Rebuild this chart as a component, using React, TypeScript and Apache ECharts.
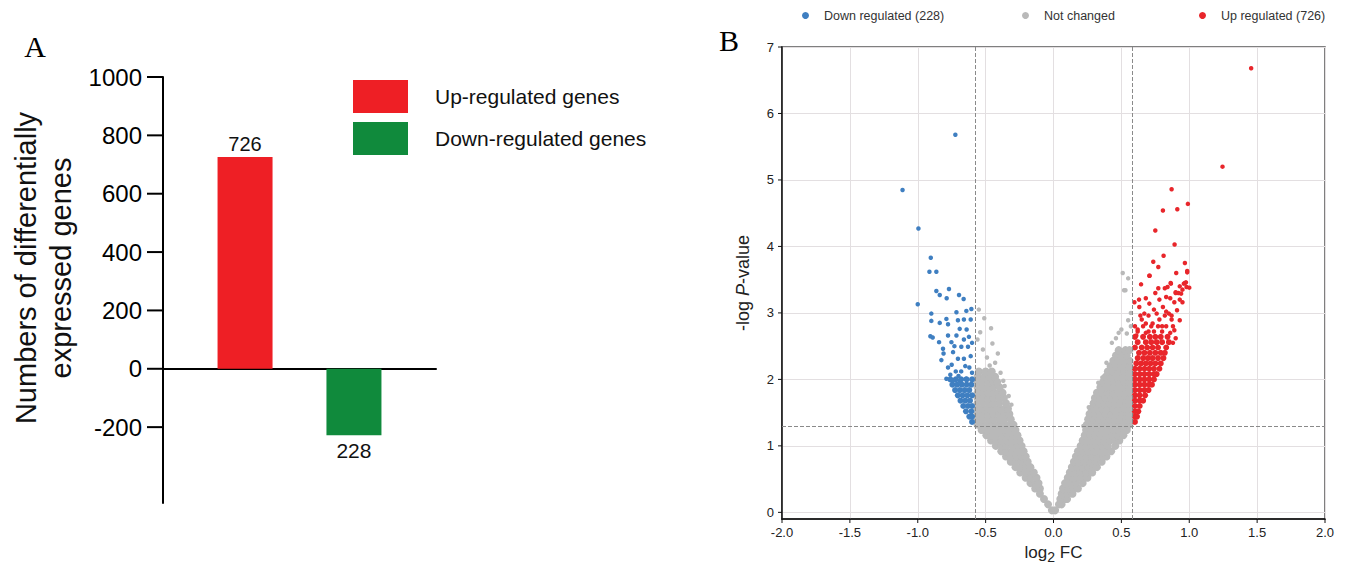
import React, { useEffect, useRef } from 'react';
import * as echarts from 'echarts';

// ---------- Panel A data ----------
const barCategories = ['DEGs'];
const upRegulated = [726];
const downRegulated = [-228];
const barAxisMin = -460; // the drawn axis line runs below the last tick
const barAxisMax = 1000;
const barTickValues = [-200, 0, 200, 400, 600, 800, 1000];
const barTickStep = 200;

// ---------- Panel B data (log2 FC, -log P) ----------
const volcanoXTickValues = [-2, -1.5, -1, -0.5, 0, 0.5, 1, 1.5, 2];
const volcanoXStep = 0.5;
const volcanoYMin = -0.1;
const volcanoYTickValues = [0, 1, 2, 3, 4, 5, 6, 7];
const volcanoYStep = 1;

// rows of the dense "not changed" cloud: [ -logP, [log2FC ...] ]
const notChangedLeftRows: [number, number[]][] = [
  [0.03, [-0.012, 0.012]],
  [0.12, [-0.04]],
  [0.2, [-0.07]],
  [0.28, [-0.1]],
  [0.36, [-0.135, -0.1]],
  [0.44, [-0.17, -0.13, -0.11]],
  [0.52, [-0.205, -0.165, -0.125]],
  [0.6, [-0.245, -0.205, -0.165, -0.145]],
  [0.68, [-0.28, -0.24, -0.2, -0.17]],
  [0.76, [-0.315, -0.275, -0.235, -0.19]],
  [0.84, [-0.35, -0.31, -0.27, -0.23, -0.205]],
  [0.92, [-0.385, -0.345, -0.305, -0.265, -0.22]],
  [1.0, [-0.425, -0.385, -0.345, -0.305, -0.265, -0.235]],
  [1.08, [-0.46, -0.42, -0.38, -0.34, -0.3, -0.25]],
  [1.16, [-0.495, -0.455, -0.415, -0.375, -0.335, -0.295, -0.265]],
  [1.24, [-0.53, -0.49, -0.45, -0.41, -0.37, -0.33, -0.28]],
  [1.32, [-0.56, -0.52, -0.48, -0.44, -0.4, -0.36, -0.32, -0.295]],
  [1.4, [-0.56, -0.52, -0.48, -0.44, -0.4, -0.36, -0.315]],
  [1.48, [-0.56, -0.52, -0.48, -0.44, -0.4, -0.36, -0.325]],
  [1.56, [-0.56, -0.52, -0.48, -0.44, -0.4, -0.36, -0.335]],
  [1.64, [-0.56, -0.52, -0.48, -0.44, -0.4, -0.35]],
  [1.72, [-0.56, -0.52, -0.48, -0.44, -0.4, -0.365]],
  [1.8, [-0.56, -0.52, -0.48, -0.44, -0.4, -0.375]],
  [1.88, [-0.56, -0.52, -0.48, -0.44, -0.395]],
  [1.96, [-0.56, -0.52, -0.48, -0.44, -0.415]],
  [2.04, [-0.56, -0.51, -0.47, -0.43]],
  [2.12, [-0.55, -0.5, -0.455]],
];

const notChangedRightRows: [number, number[]][] = [
  [0.12, [0.04, 0.06]],
  [0.2, [0.05, 0.09, 0.1]],
  [0.28, [0.06, 0.1, 0.14]],
  [0.36, [0.07, 0.11, 0.15, 0.18]],
  [0.44, [0.085, 0.125, 0.165, 0.215]],
  [0.52, [0.105, 0.145, 0.185, 0.225, 0.25]],
  [0.6, [0.12, 0.16, 0.2, 0.24, 0.285]],
  [0.68, [0.135, 0.175, 0.215, 0.255, 0.295, 0.32]],
  [0.76, [0.15, 0.19, 0.23, 0.27, 0.31, 0.355]],
  [0.84, [0.165, 0.205, 0.245, 0.285, 0.325, 0.365, 0.39]],
  [0.92, [0.18, 0.22, 0.26, 0.3, 0.34, 0.38, 0.425]],
  [1.0, [0.2, 0.24, 0.28, 0.32, 0.36, 0.4, 0.455]],
  [1.08, [0.215, 0.255, 0.295, 0.335, 0.375, 0.415, 0.455, 0.485]],
  [1.16, [0.23, 0.27, 0.31, 0.35, 0.39, 0.43, 0.47, 0.515]],
  [1.24, [0.24, 0.28, 0.32, 0.36, 0.4, 0.44, 0.48, 0.52, 0.54]],
  [1.32, [0.245, 0.285, 0.325, 0.365, 0.405, 0.445, 0.485, 0.525, 0.56]],
  [1.4, [0.255, 0.295, 0.335, 0.375, 0.415, 0.455, 0.495, 0.535, 0.56]],
  [1.48, [0.265, 0.305, 0.345, 0.385, 0.425, 0.465, 0.505, 0.545, 0.56]],
  [1.56, [0.28, 0.32, 0.36, 0.4, 0.44, 0.48, 0.52, 0.56]],
  [1.64, [0.295, 0.335, 0.375, 0.415, 0.455, 0.495, 0.535, 0.56]],
  [1.72, [0.305, 0.345, 0.385, 0.425, 0.465, 0.505, 0.545, 0.56]],
  [1.8, [0.32, 0.36, 0.4, 0.44, 0.48, 0.52, 0.56]],
  [1.88, [0.345, 0.385, 0.425, 0.465, 0.505, 0.545, 0.56]],
  [1.96, [0.365, 0.405, 0.445, 0.485, 0.525, 0.56]],
  [2.04, [0.385, 0.425, 0.465, 0.505, 0.545, 0.56]],
  [2.12, [0.4, 0.44, 0.48, 0.52, 0.56]],
  [2.2, [0.42, 0.46, 0.5, 0.54, 0.56]],
  [2.28, [0.44, 0.48, 0.52, 0.56]],
  [2.36, [0.46, 0.5, 0.54]],
  [2.44, [0.48, 0.53, 0.56]],
];

const notChangedScattered: [number, number][] = [
  [-0.55, 3.05], [-0.51, 2.92], [-0.46, 2.77], [-0.54, 2.71], [-0.45, 2.54], [-0.52, 2.45],
  [-0.41, 2.39], [-0.49, 2.33], [-0.47, 2.21], [-0.43, 2.25], [-0.56, 2.6], [-0.39, 2.1],
  [-0.37, 1.98], [-0.36, 1.9], [-0.33, 1.75], [-0.31, 1.62],
  [0.36, 2.03], [0.33, 1.95], [0.39, 2.25], [0.43, 2.55], [0.46, 2.62], [0.48, 2.7],
  [0.5, 2.75], [0.54, 2.69], [0.55, 2.89], [0.57, 2.8], [0.57, 3.0], [0.52, 3.34],
  [0.53, 3.34], [0.55, 3.52], [0.51, 3.6], [0.26, 1.58], [0.22, 1.3],
];

const downDenseRows: [number, number[]][] = [
  [1.36, [-0.6]],
  [1.44, [-0.62, -0.6]],
  [1.52, [-0.645, -0.605]],
  [1.6, [-0.665, -0.63, -0.6]],
  [1.68, [-0.685, -0.65, -0.615]],
  [1.76, [-0.705, -0.67, -0.635, -0.6]],
  [1.84, [-0.725, -0.69, -0.655, -0.62]],
  [1.92, [-0.745, -0.71, -0.675, -0.64, -0.605]],
  [2.0, [-0.76, -0.72, -0.68, -0.64, -0.6]],
];

const downScattered: [number, number][] = [
  [-0.723, 5.68], [-1.112, 4.85], [-0.995, 4.27], [-0.904, 3.83], [-0.914, 3.62], [-0.863, 3.62],
  [-0.863, 3.33], [-0.838, 3.27], [-0.77, 3.36], [-0.787, 3.22], [-0.696, 3.27], [-0.662, 3.21],
  [-1.0, 3.13], [-0.9, 2.99], [-0.9, 2.88], [-0.838, 2.85], [-0.789, 2.91], [-0.777, 2.83],
  [-0.715, 3.01], [-0.704, 2.89], [-0.66, 2.9], [-0.642, 3.03], [-0.605, 3.06], [-0.907, 2.65],
  [-0.89, 2.63], [-0.843, 2.56], [-0.814, 2.46], [-0.752, 2.56], [-0.777, 2.66], [-0.715, 2.66],
  [-0.691, 2.76], [-0.623, 2.64], [-0.63, 2.49], [-0.679, 2.49], [-0.826, 2.29], [-0.81, 2.39],
  [-0.74, 2.41], [-0.704, 2.31], [-0.66, 2.31], [-0.777, 2.18], [-0.75, 2.22], [-0.62, 2.18],
  [-0.68, 2.12], [-0.789, 2.01], [-0.74, 1.98], [-0.69, 1.98], [-0.645, 2.01], [-0.61, 2.35],
  [-0.6, 2.55], [-0.64, 2.75], [-0.72, 2.12], [-0.61, 2.9], [-0.65, 2.2], [-0.7, 2.05],
  [-0.76, 2.07], [-0.6, 2.1], [-0.66, 2.6], [-0.73, 2.5],
];

const upDenseRows: [number, number[]][] = [
  [1.36, [0.6]],
  [1.44, [0.6, 0.615]],
  [1.52, [0.6, 0.625]],
  [1.6, [0.6, 0.635]],
  [1.68, [0.6, 0.635, 0.66]],
  [1.76, [0.6, 0.635, 0.675]],
  [1.84, [0.6, 0.635, 0.67, 0.7]],
  [1.92, [0.6, 0.635, 0.67, 0.705, 0.725]],
  [2.0, [0.6, 0.635, 0.67, 0.705, 0.74]],
  [2.08, [0.6, 0.635, 0.67, 0.705, 0.74, 0.76]],
  [2.16, [0.6, 0.635, 0.67, 0.705, 0.74, 0.78]],
  [2.24, [0.61, 0.645, 0.68, 0.715, 0.75, 0.79]],
  [2.32, [0.62, 0.66, 0.695, 0.73, 0.77, 0.81]],
  [2.4, [0.63, 0.67, 0.71, 0.75, 0.79, 0.82]],
  [2.48, [0.6, 0.65, 0.69, 0.73, 0.77, 0.83]],
  [2.56, [0.62, 0.68, 0.72, 0.76, 0.8, 0.85]],
  [2.64, [0.6, 0.66, 0.71, 0.75, 0.79, 0.84]],
];

const upScattered: [number, number][] = [
  [1.456, 6.68], [1.245, 5.2], [0.87, 4.86], [0.99, 4.64], [0.912, 4.56], [0.806, 4.54],
  [0.75, 4.24], [0.892, 4.03], [0.811, 3.86], [0.735, 3.77], [0.968, 3.75], [0.772, 3.69],
  [0.985, 3.63], [0.904, 3.6], [0.708, 3.56], [0.645, 3.43], [0.863, 3.45], [0.968, 3.45],
  [1.0, 3.38], [0.772, 3.37], [0.82, 3.37], [0.9, 3.3], [0.92, 3.3], [0.596, 3.16],
  [0.632, 3.09], [0.669, 2.99], [0.706, 3.14], [0.76, 2.99], [0.68, 2.84], [0.73, 2.84],
  [0.78, 2.9], [0.806, 3.09], [0.83, 3.24], [0.84, 3.39], [0.865, 3.44], [0.9, 3.31],
  [0.89, 3.16], [0.85, 2.99], [0.91, 3.04], [0.93, 2.89], [0.89, 2.74], [0.95, 3.16],
  [0.96, 3.44], [0.98, 3.39], [0.706, 3.56], [0.985, 3.61], [0.94, 3.29], [0.976, 3.46],
  [0.93, 3.4], [0.95, 3.35], [0.62, 2.75], [0.7, 2.72], [0.8, 2.8], [0.87, 2.9],
  [0.65, 2.9], [0.74, 3.05], [0.86, 2.7],
  [0.62, 2.72], [0.68, 2.7], [0.74, 2.72], [0.8, 2.72], [0.6, 2.8], [0.66, 2.8],
  [0.72, 2.8], [0.77, 2.8], [0.83, 2.8], [0.88, 2.8], [0.64, 2.96], [0.7, 2.96],
  [0.82, 2.96], [0.87, 2.96], [0.63, 3.2], [0.68, 3.22], [0.78, 3.2], [0.86, 3.22],
  [0.93, 3.2], [0.61, 2.66], [0.9, 2.62], [0.88, 2.55], [0.83, 3.02], [0.75, 3.3],
];

const fcCut = 0.585;
const pCut = 1.301;

const flattenRows = (rows: [number, number[]][]) =>
  rows.flatMap(([y, xs]) => xs.map((x) => [x, y]));

const SANS = "'Liberation Sans', Arial, sans-serif";
const SERIF = "'Liberation Serif', 'Times New Roman', serif";

export default function App() {
  const ref = useRef<HTMLDivElement>(null);

  useEffect(() => {
    document.body.style.margin = '0';
    if (!ref.current) return;
    const chart = echarts.init(ref.current, null, { renderer: 'svg' });

    const grey = '#b9b9b9';
    const blue = '#3f7fc1';
    const red = '#e8262b';
    const gridLineColor = '#e3dfe1';

    const barTickMin = barTickValues[0];
    const volcanoXMin = volcanoXTickValues[0];
    const volcanoXMax = volcanoXTickValues[volcanoXTickValues.length - 1];
    const volcanoYTickMin = volcanoYTickValues[0];
    const volcanoYMax = volcanoYTickValues[volcanoYTickValues.length - 1];

    // panel geometry
    const aTop = 77, aHeight = 426, aLeft = 163, aWidth = 273, aTickLen = 16;
    const aTickHeight = (aHeight * (barAxisMax - barTickMin)) / (barAxisMax - barAxisMin);
    const bTop = 47, bHeight = 472, bLeft = 782, bWidth = 543, bTickLen = 4;
    const bTickHeight = (bHeight * (volcanoYMax - volcanoYTickMin)) / (volcanoYMax - volcanoYMin);

    const fixedGrid = (g: any) => ({ outerBoundsMode: 'none', containLabel: false, ...g });

    const legendB = (name: string, left: number) => ({
      data: [name], left, top: 9, padding: 0, icon: 'circle',
      itemWidth: 7, itemHeight: 7,
      textStyle: { fontSize: 12.5, color: '#333', fontFamily: SANS, padding: [0, 0, 0, 10] },
    });

    const hiddenAxis = (gridIndex: number) => ({
      type: 'value', gridIndex, show: false, min: 0, max: 1,
    });

    const baseGraphic: any[] = [
      {
        type: 'text', x: 35, y: 46,
        style: { text: 'A', fontSize: 30, fontFamily: SERIF, fill: '#000', align: 'center', verticalAlign: 'middle' },
      },
      {
        type: 'text', x: 729, y: 40,
        style: { text: 'B', fontSize: 30, fontFamily: SERIF, fill: '#000', align: 'center', verticalAlign: 'middle' },
      },
      {
        type: 'text', x: 43, y: 268, rotation: Math.PI / 2,
        style: {
          text: 'Numbers of differentially\nexpressed genes', fontSize: 29, lineHeight: 35,
          fontFamily: SANS, fill: '#111', align: 'center', verticalAlign: 'middle',
        },
      },
    ];

    const option: any = {
      animation: false,
      backgroundColor: '#fff',
      textStyle: { fontFamily: SANS },
      tooltip: { show: false },
      grid: [
        // 0: panel A plot
        fixedGrid({ left: aLeft, top: aTop, width: aWidth, height: aHeight }),
        // 1: panel B plot
        fixedGrid({
          left: bLeft, top: bTop, width: bWidth, height: bHeight,
          show: true, borderColor: '#555', borderWidth: 1.5, backgroundColor: 'transparent',
        }),
        // 2: panel A label strip (left of the axis)
        fixedGrid({ left: aLeft - aTickLen, top: aTop, width: aTickLen, height: aTickHeight }),
        // 3: panel B vertical label strip
        fixedGrid({ left: bLeft - bTickLen, top: bTop, width: bTickLen, height: bTickHeight }),
        // 4: panel B horizontal grid lines
        fixedGrid({ left: bLeft, top: bTop, width: bWidth, height: bTickHeight }),
      ],
      legend: [
        {
          data: ['Up-regulated genes', 'Down-regulated genes'],
          orient: 'vertical', left: 353, top: 80, padding: 0,
          itemWidth: 55, itemHeight: 33, itemGap: 9, icon: 'rect',
          textStyle: { fontSize: 21, color: '#111', fontFamily: SANS, padding: [0, 0, 0, 22] },
        },
        legendB('Down regulated (228)', 802),
        legendB('Not changed', 1022),
        legendB('Up regulated (726)', 1199),
      ],
      xAxis: [
        {
          type: 'category', gridIndex: 0, data: barCategories,
          axisLine: { onZero: true, lineStyle: { color: '#000', width: 2 } },
          axisTick: { show: false }, axisLabel: { show: false }, splitLine: { show: false },
        },
        {
          type: 'value', gridIndex: 1, min: volcanoXMin, max: volcanoXMax, interval: volcanoXStep, position: 'bottom',
          axisLine: { onZero: false, lineStyle: { color: '#111', width: 1.5 } },
          axisTick: { show: false },
          axisLabel: {
            fontSize: 13, color: '#222', margin: 7, fontFamily: SANS,
            formatter: (v: number) => v.toFixed(1),
          },
          splitLine: { show: true, lineStyle: { color: gridLineColor, width: 1 } },
          name: '{a|log}{s|2}{a| FC}',
          nameLocation: 'middle', nameGap: 16,
          nameTextStyle: {
            rich: {
              a: { fontSize: 17, color: '#222', fontFamily: SANS, verticalAlign: 'bottom', padding: [0, 0, 3, 0] },
              s: { fontSize: 14, color: '#222', fontFamily: SANS, verticalAlign: 'bottom' },
            },
          },
        },
        hiddenAxis(2),
        hiddenAxis(3),
        hiddenAxis(4),
      ],
      yAxis: [
        // 0: panel A data axis (line only)
        {
          type: 'value', gridIndex: 0, min: barAxisMin, max: barAxisMax, position: 'left',
          axisLine: { show: true, onZero: false, lineStyle: { color: '#000', width: 2 } },
          axisTick: { show: false }, axisLabel: { show: false }, splitLine: { show: false },
        },
        // 1: panel B data axis (line + title)
        {
          type: 'value', gridIndex: 1, min: volcanoYMin, max: volcanoYMax, position: 'left',
          axisLine: { show: true, onZero: false, lineStyle: { color: '#111', width: 1.5 } },
          axisTick: { show: false }, axisLabel: { show: false }, splitLine: { show: false },
          name: '{a|-log }{b|P}{a|-value}',
          nameLocation: 'middle', nameGap: 30, nameRotate: 90,
          nameTextStyle: {
            rich: {
              a: { fontSize: 18, color: '#222', fontFamily: SANS },
              b: { fontSize: 18, color: '#222', fontFamily: SANS, fontStyle: 'italic' },
            },
          },
        },
        // 2: panel A labels
        {
          type: 'value', gridIndex: 2, min: barTickMin, max: barAxisMax, interval: barTickStep, position: 'left',
          axisLine: { show: false, onZero: false }, axisTick: { show: false }, splitLine: { show: false },
          axisLabel: { fontSize: 24, color: '#000', margin: 5, fontFamily: SANS, formatter: (v: number) => String(v) },
        },
        // 3: panel B y labels
        {
          type: 'value', gridIndex: 3, min: volcanoYTickMin, max: volcanoYMax, interval: volcanoYStep, position: 'left',
          axisLine: { show: false, onZero: false }, axisTick: { show: false }, splitLine: { show: false },
          axisLabel: { fontSize: 13, color: '#222', margin: 4, fontFamily: SANS },
        },
        // 4: panel B horizontal grid lines
        {
          type: 'value', gridIndex: 4, min: volcanoYTickMin, max: volcanoYMax, interval: volcanoYStep,
          axisLine: { show: false, onZero: false }, axisTick: { show: false }, axisLabel: { show: false },
          splitLine: { show: true, lineStyle: { color: gridLineColor, width: 1 } },
        },
      ],
      series: [
        {
          name: 'Up-regulated genes', type: 'bar', xAxisIndex: 0, yAxisIndex: 0,
          data: upRegulated, barWidth: 55, barGap: '98%',
          itemStyle: { color: '#ee1f25' },
          label: { show: true, position: 'top', distance: 3, fontSize: 20, color: '#111', fontFamily: SANS },
        },
        {
          name: 'Down-regulated genes', type: 'bar', xAxisIndex: 0, yAxisIndex: 0,
          data: downRegulated, barWidth: 55, barGap: '98%',
          itemStyle: { color: '#108a3c' },
          label: {
            show: true, position: 'bottom', distance: 5, fontSize: 21, color: '#111', fontFamily: SANS,
            formatter: (p: any) => String(Math.abs(p.value)),
          },
        },
        {
          name: 'Not changed', type: 'scatter', xAxisIndex: 1, yAxisIndex: 1,
          data: [...flattenRows(notChangedLeftRows), ...flattenRows(notChangedRightRows)],
          symbolSize: 8, itemStyle: { color: grey, opacity: 1 }, z: 2,
        },
        {
          name: 'Not changed', type: 'scatter', xAxisIndex: 1, yAxisIndex: 1,
          data: notChangedScattered, symbolSize: 4.5, itemStyle: { color: grey, opacity: 1 }, z: 2,
        },
        {
          name: 'Down regulated (228)', type: 'scatter', xAxisIndex: 1, yAxisIndex: 1,
          data: flattenRows(downDenseRows), symbolSize: 6, itemStyle: { color: blue, opacity: 1 }, z: 3,
        },
        {
          name: 'Down regulated (228)', type: 'scatter', xAxisIndex: 1, yAxisIndex: 1,
          data: downScattered, symbolSize: 4.5, itemStyle: { color: blue, opacity: 1 }, z: 3,
        },
        {
          name: 'Up regulated (726)', type: 'scatter', xAxisIndex: 1, yAxisIndex: 1,
          data: flattenRows(upDenseRows), symbolSize: 6, itemStyle: { color: red, opacity: 1 }, z: 3,
        },
        {
          name: 'Up regulated (726)', type: 'scatter', xAxisIndex: 1, yAxisIndex: 1,
          data: upScattered, symbolSize: 4.5, itemStyle: { color: red, opacity: 1 }, z: 4,
          markLine: {
            silent: true, symbol: 'none', label: { show: false },
            lineStyle: { type: 'dashed', color: '#8a8a8a', width: 1 },
            data: [{ xAxis: -fcCut }, { xAxis: fcCut }, { yAxis: pCut }],
          },
        },
      ],
      graphic: baseGraphic,
    };

    chart.setOption(option);

    // tick marks: positions come from the axes' own scales
    const tickLines: any[] = [];
    barTickValues.forEach((v) => {
      const y = chart.convertToPixel({ yAxisIndex: 0 }, v) as number;
      tickLines.push({
        type: 'line', z: 100, silent: true,
        shape: { x1: aLeft - aTickLen, y1: y, x2: aLeft, y2: y },
        style: { stroke: '#000', lineWidth: 2 },
      });
    });
    volcanoYTickValues.forEach((v) => {
      const y = chart.convertToPixel({ yAxisIndex: 1 }, v) as number;
      tickLines.push({
        type: 'line', z: 100, silent: true,
        shape: { x1: bLeft - bTickLen, y1: y, x2: bLeft, y2: y },
        style: { stroke: '#111', lineWidth: 1 },
      });
    });
    volcanoXTickValues.forEach((v) => {
      const x = chart.convertToPixel({ xAxisIndex: 1 }, v) as number;
      tickLines.push({
        type: 'line', z: 100, silent: true,
        shape: { x1: x, y1: bTop + bHeight, x2: x, y2: bTop + bHeight + bTickLen },
        style: { stroke: '#111', lineWidth: 1 },
      });
    });
    chart.setOption({ graphic: [...baseGraphic, ...tickLines] });

    return () => chart.dispose();
  }, []);

  return <div ref={ref} style={{ width: 1346, height: 564 }} />;
}
